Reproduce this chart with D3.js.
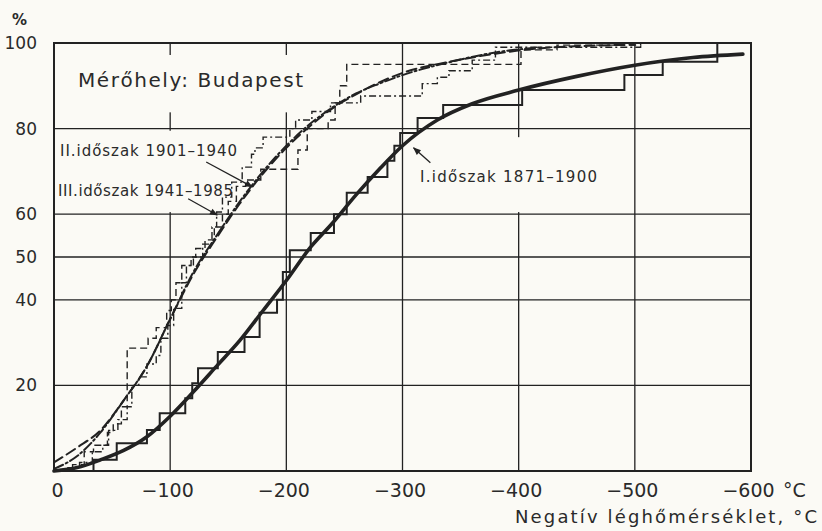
<!DOCTYPE html>
<html><head><meta charset="utf-8">
<script src="https://cdn.jsdelivr.net/npm/d3@7"></script>
<style>
html,body{margin:0;padding:0;background:#fbfaf5;}
svg{display:block;}
text{font-family:"DejaVu Sans",sans-serif;fill:#2a2a2a;}
</style></head>
<body>
<svg id="c" width="822" height="531"></svg>
<script>
// ---- data ----
const xTicks = [0, -100, -200, -300, -400, -500, -600];
const yTicks = [20, 40, 50, 60, 80, 100];

// Period I (1871-1900): fitted curve
const curveI_x = [0,-20,-40,-60,-80,-100,-120,-140,-160,-180,-200,-220,-240,-260,-280,-300,-330,-360,-400,-450,-500,-550,-593];
const curveI_y = [0,0.8,2.6,4.8,8,12.8,18.5,24.5,30.5,37.5,44.5,52,58,64.5,70.5,76,82,85.8,89,92.2,94.8,96.6,97.4];
// Period I: empirical steps (x where jump happens, level after jump)
const stepI_x = [0,-34,-54,-80,-91,-113,-119,-124,-141,-164,-177,-192,-197,-203,-221,-241,-252,-270,-287,-293,-298,-313,-335,-403,-491,-524,-571];
const stepI_y = [0,2.6,6.5,9.6,13.5,17,20.5,24,27.8,31.3,37,40,46.5,51.6,55.6,60,65,68.7,72.5,76,79,82.5,85.5,89,92.5,95.6,100];

// Period II (1901-1940): fitted curve (dashed)
const curveII_x = [0,-20,-40,-60,-80,-100,-120,-140,-160,-180,-200,-220,-240,-260,-280,-300,-340,-380,-420,-500];
const curveII_y = [2,5.5,9.5,16.5,24.5,35.5,46,54.5,62.5,69.5,75.5,80.5,84.8,88,90.8,93,95.6,97.5,98.8,99.6];
// Period II: empirical steps
const stepII_x = [0,-16,-26,-34,-46,-51,-58,-63,-81,-88,-97,-101,-105,-110,-118,-122,-130,-138,-145,-150,-157,-165,-178,-210,-218,-236,-242,-246,-252,-402,-433,-505];
const stepII_y = [0,1.5,4.5,6,9,11,15,28.7,31,33.5,37.5,40,44,48,50,52,54,57,60,63,66.5,68,70.5,75,80,82,86,90,95,98.4,99.5,100];

// Period III (1941-1985): fitted curve (dash-dot)
const curveIII_x = [0,-20,-40,-60,-80,-100,-120,-140,-160,-180,-200,-220,-240,-260,-280,-300,-340,-380,-420];
const curveIII_y = [0.5,3.5,9,16.5,24.5,35.5,46.5,55,63,70,76,81,85,88.2,90.5,92.5,95.5,97.8,99];
// Period III: empirical steps
const stepIII_x = [0,-12,-22,-33,-42,-47,-55,-63,-67,-73,-80,-88,-92,-98,-103,-110,-114,-120,-128,-136,-140,-145,-153,-162,-170,-173,-180,-203,-208,-222,-238,-264,-317,-330,-340,-360,-380,-505];
const stepIII_y = [0,0.8,2,4.5,6,9.5,12,15,20,22,25,27,31,34,38,44,48,50,53,57,60.5,64,67.5,71,74,75.5,78,80,82,84,86,87.6,90.5,92,93.5,96,99,100];

const labels = {
  title: "Mérőhely: Budapest",
  I: "I.időszak 1871–1900",
  II: "II.időszak 1901–1940",
  III: "III.időszak 1941–1985",
  xTitle: "Negatív léghőmérséklet, °C",
  yUnit: "%"
};

// ---- drawing ----
const svg = d3.select("#c");
const ink = "#222";
const x = d3.scaleLinear().domain([0, -600]).range([54, 751]);
const y = d3.scaleLinear().domain([0, 100]).range([471, 43]);
const [x0, x1] = x.range();
const [yb, yt] = y.range();

svg.append("rect").attr("width", 822).attr("height", 531).attr("fill", "#fbfaf5");

// grid
const g = svg.append("g");
g.selectAll(".vg").data(xTicks.slice(1, -1)).join("line")
  .attr("x1", d => x(d)).attr("x2", d => x(d)).attr("y1", yt).attr("y2", yb)
  .attr("stroke", ink).attr("stroke-width", 1.3);
g.selectAll(".hg").data(yTicks.slice(0, -1)).join("line")
  .attr("x1", x0).attr("x2", x1).attr("y1", d => y(d)).attr("y2", d => y(d))
  .attr("stroke", ink).attr("stroke-width", 1.3);

// label masks (labels sit on blank boxes in the original)
const bg = "#fbfaf5";
svg.append("rect").attr("x", x(-2)).attr("y", y(97.2)).attr("width", x(-212) - x(-2)).attr("height", y(83.8) - y(97.2)).attr("fill", bg);
svg.append("rect").attr("x", x(-2)).attr("y", y(79.5)).attr("width", x(-160) - x(-2)).attr("height", y(60.5) - y(79.5)).attr("fill", bg);
svg.append("rect").attr("x", x(-304)).attr("y", y(78)).attr("width", x(-470) - x(-304)).attr("height", y(60.5) - y(78)).attr("fill", bg);

// axes text
const xa = svg.append("g").attr("transform", `translate(0,${yb})`)
  .call(d3.axisBottom(x).tickValues(xTicks).tickSize(0).tickPadding(0)
    .tickFormat(d => d === 0 ? "0" : "−" + Math.abs(d)));
xa.select(".domain").remove();
xa.selectAll("text").attr("font-size", 19).attr("fill", "#2a2a2a")
  .attr("dy", null).attr("y", 26).attr("x", d => d === 0 ? 3 : -3)
  .style("font-family", '"DejaVu Sans",sans-serif');
svg.append("text").attr("x", x(-600) + 32).attr("y", yb + 26).attr("font-size", 19).text("°C");

const ya = svg.append("g").attr("transform", `translate(${x0},0)`)
  .call(d3.axisLeft(y).tickValues(yTicks).tickSize(0).tickPadding(17));
ya.select(".domain").remove();
ya.selectAll("text").attr("font-size", 17).attr("fill", "#2a2a2a")
  .style("font-family", '"DejaVu Sans",sans-serif');
svg.append("text").attr("x", 12).attr("y", 25).attr("font-size", 15).attr("font-weight", "bold").text(labels.yUnit);

svg.append("text").attr("x", 515).attr("y", 523).attr("font-size", 18)
  .attr("textLength", 302).attr("lengthAdjust", "spacing").text(labels.xTitle);

// frame
svg.append("rect").attr("x", x0).attr("y", yt).attr("width", x1 - x0).attr("height", yb - yt)
  .attr("fill", "none").attr("stroke", ink).attr("stroke-width", 2);

// series
const pts = (xs, ys) => xs.map((v, i) => [x(v), y(ys[i])]);
const smooth = d3.line().curve(d3.curveMonotoneX);
const step = d3.line().curve(d3.curveStepAfter);

function drawStep(xs, ys, dash, w) {
  svg.append("path").attr("d", step(pts(xs, ys))).attr("fill", "none")
    .attr("stroke", ink).attr("stroke-width", w).attr("stroke-dasharray", dash)
    .attr("stroke-linejoin", "miter");
}
function drawCurve(xs, ys, dash, w) {
  svg.append("path").attr("d", smooth(pts(xs, ys))).attr("fill", "none")
    .attr("stroke", ink).attr("stroke-width", w).attr("stroke-dasharray", dash)
    .attr("stroke-linecap", "round");
}
drawStep(stepII_x, stepII_y, "7,4", 1.4);
drawStep(stepIII_x, stepIII_y, "7,3,2,3", 1.4);
drawCurve(curveII_x, curveII_y, "10,5", 2);
drawCurve(curveIII_x, curveIII_y, "10,3,2,3", 2);
drawStep(stepI_x, stepI_y, null, 2);
drawCurve(curveI_x, curveI_y, null, 3.6);

// annotations
svg.append("text").attr("x", 78).attr("y", 87).attr("font-size", 20)
  .attr("textLength", 225).attr("lengthAdjust", "spacing").text(labels.title);
svg.append("text").attr("x", 60).attr("y", 156).attr("font-size", 15)
  .attr("textLength", 177).attr("lengthAdjust", "spacing").text(labels.II);
svg.append("text").attr("x", 58).attr("y", 196).attr("font-size", 15)
  .attr("textLength", 175).attr("lengthAdjust", "spacing").text(labels.III);
svg.append("text").attr("x", 420).attr("y", 182).attr("font-size", 15)
  .attr("textLength", 177).attr("lengthAdjust", "spacing").text(labels.I);

svg.append("defs").append("marker").attr("id", "ah").attr("viewBox", "0 0 10 10")
  .attr("refX", 9).attr("refY", 5).attr("markerWidth", 10).attr("markerHeight", 8)
  .attr("markerUnits", "userSpaceOnUse").attr("orient", "auto")
  .append("path").attr("d", "M0,1 L10,5 L0,9 Z").attr("fill", ink);

const arrows = [
  [[-131, 72.2], [-170.7, 66.4]],
  [[-115.5, 63.6], [-140.5, 59.8]],
  [[-324, 72], [-309.5, 75.5]]
];
arrows.forEach(([a, b]) => {
  svg.append("line").attr("x1", x(a[0])).attr("y1", y(a[1])).attr("x2", x(b[0])).attr("y2", y(b[1]))
    .attr("stroke", ink).attr("stroke-width", 1.3).attr("marker-end", "url(#ah)");
});
</script>
</body></html>
